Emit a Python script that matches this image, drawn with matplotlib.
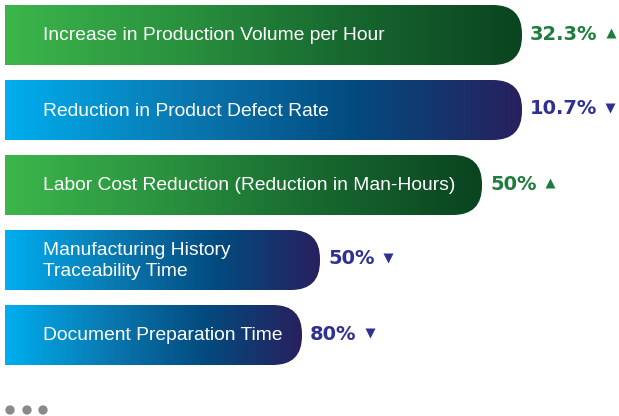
import numpy as np
import matplotlib.pyplot as plt
from matplotlib.colors import LinearSegmentedColormap
from matplotlib.patches import FancyBboxPatch

labels = [
    "Increase in Production Volume per Hour",
    "Reduction in Product Defect Rate",
    "Labor Cost Reduction (Reduction in Man-Hours)",
    "Manufacturing History\nTraceability Time",
    "Document Preparation Time",
]
values = ["32.3%", "10.7%", "50%", "50%", "80%"]
trend = ["up", "down", "up", "down", "down"]
# bar right ends, in pixels of the 619 px wide picture
bar_end = [522, 522, 482, 320, 302]

GREEN_CMAP = LinearSegmentedColormap.from_list(
    "grn", ["#3cb64b", "#2a923f", "#17672f", "#0a4420"])
BLUE_CMAP = LinearSegmentedColormap.from_list(
    "blu", [(0, "#00aeef"), (0.35, "#0a78b0"), (0.68, "#034a7e"), (1, "#28205e")])
GREEN_TXT = "#1d7c3e"
BLUE_TXT = "#2e3192"

W, H = 619, 416
fig = plt.figure(figsize=(W / 100, H / 100), dpi=100)
ax = fig.add_axes([0, 0, 1, 1])
ax.set_xlim(0, W)
ax.set_ylim(H, 0)
ax.axis("off")

left, bar_h, step, top0 = 5, 60, 75, 5
grad = np.linspace(0, 1, 256).reshape(1, -1)
renderer = fig.canvas.get_renderer()

for i, (lab, val, tr, end) in enumerate(zip(labels, values, trend, bar_end)):
    top = top0 + i * step
    yc = top + bar_h / 2
    cmap = GREEN_CMAP if tr == "up" else BLUE_CMAP
    col = GREEN_TXT if tr == "up" else BLUE_TXT

    clip = FancyBboxPatch((left - 40, top), end - left + 40, bar_h,
                          boxstyle="round,pad=0,rounding_size=29",
                          transform=ax.transData, facecolor="none", edgecolor="none")
    ax.add_patch(clip)
    im = ax.imshow(grad, cmap=cmap, aspect="auto",
                   extent=(left, end, top + bar_h, top), interpolation="bicubic")
    im.set_clip_path(clip)

    ax.text(43, yc + 1, lab, color="white", fontsize=13.9, family="Liberation Sans",
            va="center", ha="left", linespacing=1.35)

    t = ax.text(end + 8, yc - 1, val, color=col, fontsize=14, fontweight="bold",
                family="DejaVu Sans", va="center", ha="left")
    bb = t.get_window_extent(renderer=renderer)
    x_tri = ax.transData.inverted().transform((bb.x1, 0))[0] + 13
    ax.plot(x_tri, yc - 2, marker="^" if tr == "up" else "v",
            ms=7.5, color=col, mec="none")

# "more" dots at the bottom
dot_x = [10, 27, 43]
ax.scatter(dot_x, [410] * len(dot_x), s=45, color="#8a8a8a", edgecolors="none")

fig.savefig("out.png", dpi=100)
